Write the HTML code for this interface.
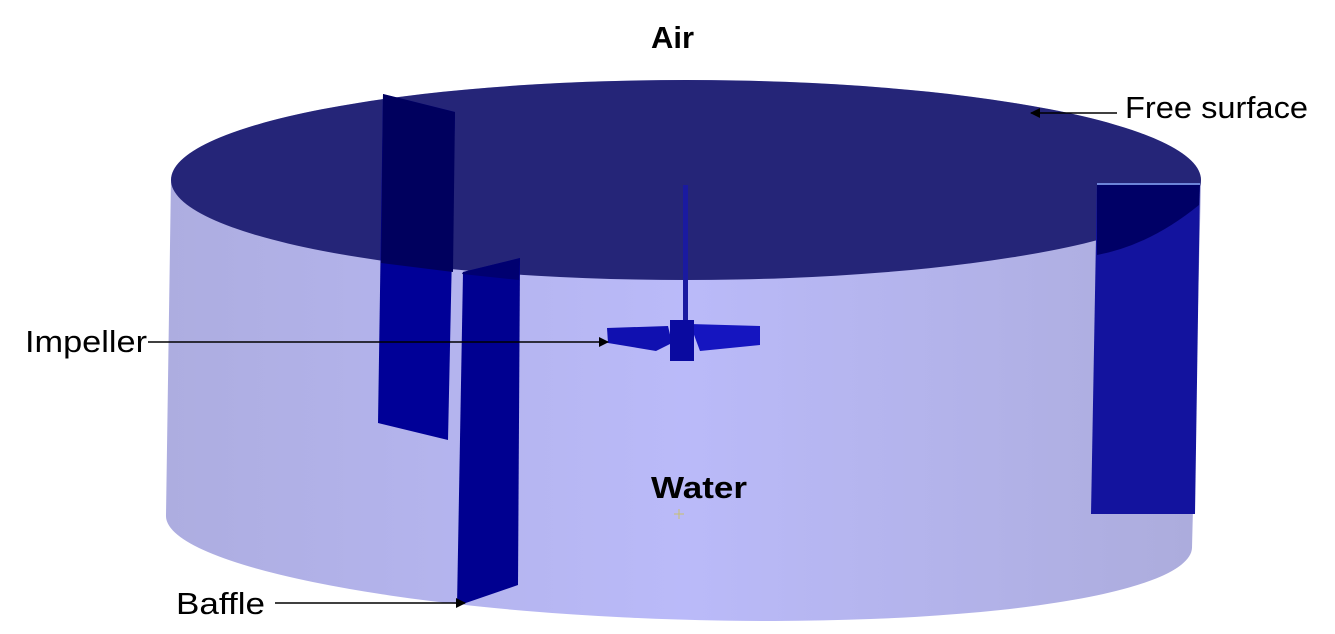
<!DOCTYPE html>
<html><head><meta charset="utf-8"><style>
html,body{margin:0;padding:0;background:#fff;}
svg{display:block;}
text{font-family:"Liberation Sans","DejaVu Sans",sans-serif;}
</style></head><body>
<svg width="1335" height="634" viewBox="0 0 1335 634" xmlns="http://www.w3.org/2000/svg">
<defs>
<linearGradient id="side" x1="0" x2="1" y1="0" y2="0">
<stop offset="0" stop-color="#adadE0"/>
<stop offset="0.5" stop-color="#babaf9"/>
<stop offset="1" stop-color="#acacdc"/>
</linearGradient>
<marker id="ah" markerWidth="10" markerHeight="10" refX="9" refY="5" orient="auto" markerUnits="userSpaceOnUse">
<path d="M0,0 L10,5 L0,10 z" fill="#000"/>
</marker>
</defs>
<!-- cylinder side -->
<path d="M171,178 L166,515 A513,88 1.8 0 0 1192,548 L1201,185 L1201,180 A515,100 0 0 0 171,180 z" fill="url(#side)"/>
<!-- top ellipse -->
<ellipse cx="686" cy="180" rx="515" ry="100" fill="#252578"/>
<!-- back baffle -->
<path d="M383,94 L455,112 L448,440 L378,423 z" fill="#000097"/>
<path d="M383,94 L455,112 L453,272 L381,263 z" fill="#00005e"/>
<!-- right baffle -->
<path d="M1097,183 L1200,183 L1195,514 L1091,514 z" fill="#13139e"/>
<path d="M1097,183 L1200,183 L1199,205 Q1150,245 1097,255 z" fill="#000066"/>
<line x1="1097" y1="184" x2="1200" y2="184" stroke="#8fb0ff" stroke-width="1.5"/>
<!-- shaft -->
<rect x="683" y="185" width="5" height="140" fill="#1a1aa0"/>
<!-- impeller -->
<path d="M607,328 L668,326 L672,343 L656,351 L608,343 z" fill="#1010b0"/>
<path d="M690,324 L760,326 L760,345 L700,351 z" fill="#1515c0"/>
<rect x="670" y="320" width="24" height="41" fill="#0a0aa0"/>
<!-- front baffle -->
<path d="M463,272 L520,258 L518,585 L457,606 z" fill="#000090"/>
<path d="M463,272 L520,258 L519,280 L462,274 z" fill="#000070"/>
<!-- water marker -->
<path d="M679,509 v10 M674,514 h10" stroke="#c8c070" stroke-width="1"/>
<!-- arrows -->
<line x1="1117" y1="113" x2="1031" y2="113" stroke="#000" stroke-width="1.5" marker-end="url(#ah)"/>
<line x1="148" y1="342" x2="608" y2="342" stroke="#000" stroke-width="1.5" marker-end="url(#ah)"/>
<line x1="275" y1="603" x2="465" y2="603" stroke="#000" stroke-width="1.5" marker-end="url(#ah)"/>
<!-- labels -->
<text x="651" y="48" font-size="31" font-weight="bold" textLength="43" lengthAdjust="spacingAndGlyphs">Air</text>
<text x="1125" y="118" font-size="31" textLength="183" lengthAdjust="spacingAndGlyphs">Free surface</text>
<text x="25" y="352" font-size="31" textLength="122" lengthAdjust="spacingAndGlyphs">Impeller</text>
<text x="176" y="614" font-size="31" textLength="89" lengthAdjust="spacingAndGlyphs">Baffle</text>
<text x="651" y="498" font-size="31" font-weight="bold" textLength="96" lengthAdjust="spacingAndGlyphs">Water</text>
</svg>
</body></html>
